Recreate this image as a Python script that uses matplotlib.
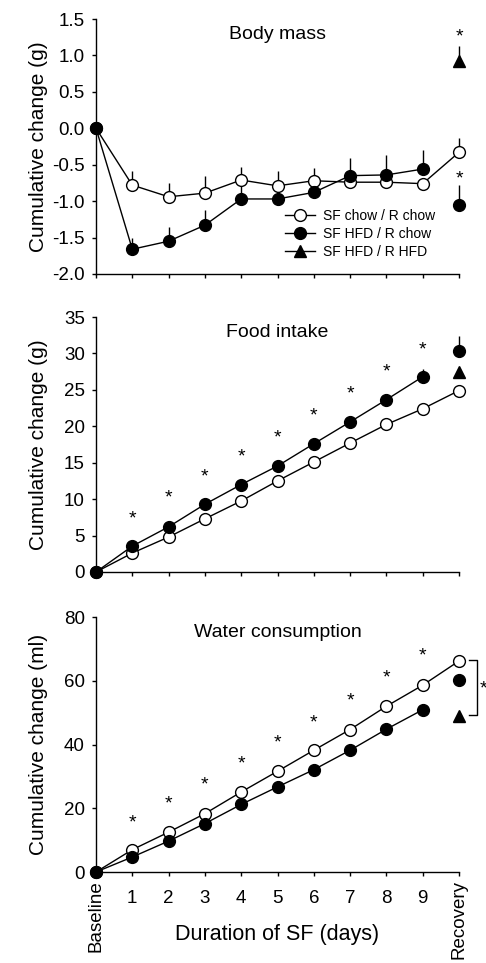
import matplotlib
matplotlib.use("Agg")
import matplotlib.pyplot as plt
import numpy as np

plt.rcParams["font.family"] = ["Liberation Sans", "DejaVu Sans"]

days = np.arange(0, 11)
day_labels = ["", "1", "2", "3", "4", "5", "6", "7", "8", "9", ""]
end_labels = ["Baseline", "Recovery"]
legend_labels = ["SF chow / R chow", "SF HFD / R chow", "SF HFD / R HFD"]

# body mass (g), days 0-9 + recovery
bm_chow = [0, -0.78, -0.94, -0.89, -0.71, -0.79, -0.72, -0.74, -0.74, -0.76, -0.33]
bm_chow_err = [0, 0.19, 0.19, 0.23, 0.18, 0.21, 0.18, 0.0, 0.0, 0.0, 0.19]
bm_hfd = [0, -1.66, -1.55, -1.33, -0.97, -0.97, -0.88, -0.65, -0.64, -0.56]
bm_hfd_err = [0, 0.15, 0.19, 0.21, 0.19, 0.2, 0.17, 0.24, 0.27, 0.26]
bm_hfd_rec = -1.05
bm_hfd_rec_err = 0.27
bm_tri_rec = 0.92
bm_tri_rec_err = 0.21
bm_star_x = [10, 10]
bm_star_y = [1.25, -0.7]

# food intake (g)
fi_chow = [0, 2.6, 4.8, 7.3, 9.75, 12.5, 15.1, 17.7, 20.25, 22.4, 24.9]
fi_chow_err = [0, 0.3, 0.3, 0.3, 0.3, 0.3, 0.4, 0.4, 0.5, 0.6, 0.7]
fi_hfd = [0, 3.55, 6.2, 9.3, 12.0, 14.55, 17.6, 20.6, 23.65, 26.8]
fi_hfd_err = [0, 0.3, 0.3, 0.4, 0.4, 0.5, 0.5, 0.6, 0.7, 1.0]
fi_hfd_rec = 30.4
fi_hfd_rec_err = 2.0
fi_tri_rec = 27.4
fi_tri_rec_err = 0.6
fi_star_x = [1, 2, 3, 4, 5, 6, 7, 8, 9]
fi_star_y = [7.3, 10.1, 13.0, 15.8, 18.4, 21.4, 24.5, 27.5, 30.5]

# water consumption (ml)
wc_chow = [0, 7.0, 12.5, 18.3, 25.1, 31.6, 38.2, 44.7, 52.0, 58.6, 66.2]
wc_hfd = [0, 4.7, 9.7, 15.2, 21.2, 26.7, 32.1, 38.2, 44.8, 50.9]
wc_hfd_rec = 60.1
wc_tri_rec = 49.0
wc_star_x = [1, 2, 3, 4, 5, 6, 7, 8, 9]
wc_star_y = [15.5, 21.2, 27.2, 34.0, 40.5, 46.9, 53.7, 60.9, 67.7]
wc_bracket = [66.4, 49.2]

W, H = 486, 963
fig = plt.figure(figsize=(W / 100, H / 100), dpi=100)

left = 96 / W
width = (459 - 96) / W


def make_ax(top_px, bottom_px):
    return fig.add_axes([left, (H - bottom_px) / H, width, (bottom_px - top_px) / H])


ax1 = make_ax(19, 274)
ax2 = make_ax(317, 572)
ax3 = make_ax(617, 872)

ms = 8.5
lw = 1.0
tick_fs = 13.5
label_fs = 15


def up_err(ax, x, y, err):
    ax.errorbar(x, y, yerr=[np.zeros(len(err)), err], fmt="none",
                ecolor="black", elinewidth=lw, capsize=0, clip_on=False, zorder=2)


def open_series(ax, x, y, err=None):
    if err is not None:
        up_err(ax, x, y, err)
    ax.plot(x, y, "-o", color="black", mfc="white", mec="black", ms=ms,
            lw=lw, mew=1.0, clip_on=False, zorder=3)


def filled_series(ax, x, y, err=None):
    if err is not None:
        up_err(ax, x, y, err)
    ax.plot(x, y, "-o", color="black", mfc="black", mec="black", ms=ms,
            lw=lw, clip_on=False, zorder=4)


def single(ax, y, marker, err=None):
    if err is not None:
        up_err(ax, [10], [y], [err])
    ax.plot([10], [y], marker, color="black", ms=ms if marker == "o" else ms + 0.5,
            clip_on=False, zorder=4)


def stars(ax, xs, ys):
    for x, y in zip(xs, ys):
        ax.text(x, y, "*", ha="center", va="center", fontsize=14)


def style(ax, ylim, yticks, fmt, ylabel, title):
    ax.set_xlim(0, 10)
    ax.set_ylim(*ylim)
    ax.set_yticks(yticks)
    ax.set_yticklabels([fmt.format(v) for v in yticks])
    ax.set_xticks(days)
    ax.spines["top"].set_visible(False)
    ax.spines["right"].set_visible(False)
    for s in ("left", "bottom"):
        ax.spines[s].set_linewidth(1.0)
    ax.tick_params(direction="out", length=3, width=1.0, labelsize=tick_fs)
    ax.tick_params(axis="y", pad=5)
    ax.set_ylabel(ylabel, fontsize=label_fs)
    ax.yaxis.set_label_coords(-0.132, 0.5)
    ax.set_title(title, fontsize=14, y=0.89)
    ax.patch.set_alpha(0)


# body mass
l1, = ax1.plot([], [], "-o", color="black", mfc="white", ms=ms, lw=lw)
l2, = ax1.plot([], [], "-o", color="black", mfc="black", ms=ms, lw=lw)
l3, = ax1.plot([], [], "-^", color="black", mfc="black", ms=ms, lw=lw)
open_series(ax1, days, bm_chow, bm_chow_err)
filled_series(ax1, days[:10], bm_hfd, bm_hfd_err)
single(ax1, bm_hfd_rec, "o", bm_hfd_rec_err)
single(ax1, bm_tri_rec, "^", bm_tri_rec_err)
stars(ax1, bm_star_x, bm_star_y)
style(ax1, (-2.0, 1.5), np.arange(-2.0, 1.51, 0.5), "{:.1f}",
      "Cumulative change (g)", "Body mass")
ax1.set_xticklabels([])
ax1.legend([l1, l2, l3], legend_labels,
           loc="upper left", bbox_to_anchor=(0.52, 0.255), frameon=False,
           fontsize=10, handlelength=2.2, handletextpad=0.55, labelspacing=0.3,
           borderaxespad=0, borderpad=0)

# food intake
open_series(ax2, days, fi_chow, fi_chow_err)
filled_series(ax2, days[:10], fi_hfd, fi_hfd_err)
single(ax2, fi_hfd_rec, "o", fi_hfd_rec_err)
single(ax2, fi_tri_rec, "^", fi_tri_rec_err)
stars(ax2, fi_star_x, fi_star_y)
style(ax2, (0, 35), np.arange(0, 36, 5), "{:d}",
      "Cumulative change (g)", "Food intake")
ax2.set_xticklabels([])

# water consumption
open_series(ax3, days, wc_chow)
filled_series(ax3, days[:10], wc_hfd)
single(ax3, wc_hfd_rec, "o")
single(ax3, wc_tri_rec, "^")
stars(ax3, wc_star_x, wc_star_y)
style(ax3, (0, 80), np.arange(0, 81, 20), "{:d}",
      "Cumulative change (ml)", "Water consumption")
ax3.set_xticklabels(day_labels)
ax3.tick_params(axis="x", pad=10)
for x, lab in zip([0, 10], end_labels):
    ax3.annotate(lab, xy=(x, 0), xycoords=("data", "axes fraction"),
                 xytext=(0, -6), textcoords="offset points", rotation=90,
                 ha="center", va="top", fontsize=tick_fs)
ax3.set_xlabel("Duration of SF (days)", fontsize=label_fs + 0.5, labelpad=12)

# bracket for recovery comparison
bx0, bx1 = 10.28, 10.5
ax3.plot([bx0, bx1, bx1, bx0], [wc_bracket[0], wc_bracket[0], wc_bracket[1], wc_bracket[1]],
         color="black", lw=1.0, clip_on=False)
ax3.text(10.68, 57.5, "*", ha="center", va="center", fontsize=14, clip_on=False)

fig.savefig("out.png", dpi=100)
